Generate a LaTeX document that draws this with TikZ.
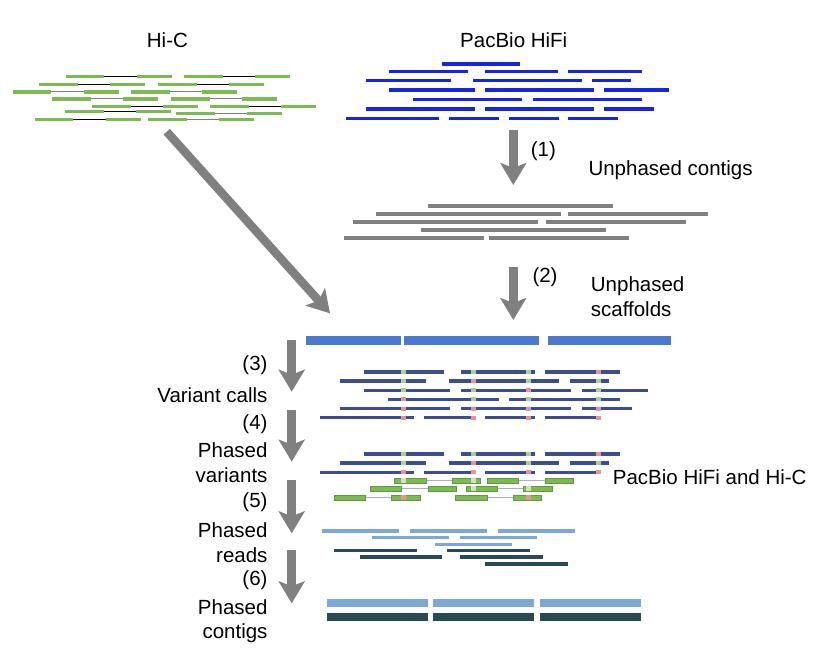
\documentclass[tikz,border=0pt]{standalone}
\usepackage{fontspec}
\setmainfont{Liberation Sans}
\usetikzlibrary{arrows.meta}
\definecolor{hicgreen}{RGB}{125,186,84}
\definecolor{hicedge}{RGB}{95,155,60}
\definecolor{hicline}{RGB}{172,176,208}
\definecolor{hifiblue}{RGB}{22,35,235}
\definecolor{ctggray}{RGB}{128,128,128}
\definecolor{scafblue}{RGB}{72,122,208}
\definecolor{varblue}{RGB}{60,77,150}
\definecolor{snpgreen}{RGB}{168,208,152}
\definecolor{snppink}{RGB}{228,150,150}
\definecolor{snplight}{RGB}{205,228,195}
\definecolor{hapone}{RGB}{123,167,217}
\definecolor{haptwo}{RGB}{38,75,87}
\tikzset{
  lbl/.style={inner sep=0pt, font=\fontsize{20.5}{24}\selectfont},
  flow/.style={draw=ctggray, line width=8.5pt, -{Stealth[length=22pt, width=26pt, inset=5pt]}},
  hicbar/.style={draw=hicgreen, line width=3.5pt},
  hifibar/.style={draw=hifiblue, line width=3.5pt},
  ctgbar/.style={draw=ctggray, line width=4pt},
  varbar/.style={draw=varblue, line width=3.5pt},
  pairbar/.style={fill=hicgreen, draw=hicedge, line width=0.6pt},
}
\begin{document}
\begin{tikzpicture}[x=1pt, y=-1pt]
  \useasboundingbox (0,0) rectangle (824,668);
  \node[lbl, anchor=base west] (hic) at (146.7,47.5) {Hi-C};
  \node[lbl, anchor=base west] (hifi) at (460,47.5) {PacBio HiFi};
  \foreach \x/\y/\c in {65.7/76.3/black, 184.3/76.3/black, 39.3/84.3/black, 158/84.3/black,
      12.7/92/ctggray, 131.3/92/ctggray, 52.3/99/ctggray, 171/99/ctggray,
      92/106.3/black, 210.3/106.3/black, 65.3/111.3/black, 176.3/113.7/ctggray,
      34.7/119.3/black, 148.3/119.3/ctggray} {
    \draw[\c, line width=1pt] (\x+38,\y) -- (\x+72,\y);
    \draw[hicbar] (\x,\y) -- ++(38.5,0);
    \draw[hicbar] (\x+71,\y) -- ++(35,0);
  }
  \foreach \a/\b/\y in {441.7/520/64, 389.3/468/71.3, 485/558/71.3, 568.3/641.7/71.3,
      365.7/451/80.7, 473/582/80.7, 592.3/631/80.7, 389.3/474.7/90, 485/594/90, 604/669/90,
      413.3/522.3/99.7, 532.7/641.7/99.7, 365.7/474.7/109, 485/594/109, 604/654/109,
      346.3/439/118.3, 449/499/118.3, 509/558.7/118.3, 568.3/618/118.3}
    \draw[hifibar] (\a,\y) -- (\b,\y);
  \coordinate (s1) at (513.3,130);
  \coordinate (e1) at (513.3,185);
  \draw[flow] (s1) -- (e1);
  \node[lbl, anchor=base west] (n1) at (530.7,156.5) {(1)};
  \node[lbl, anchor=base west] (upc) at (588.3,175.5) {Unphased contigs};
  \foreach \a/\b/\y in {428.3/613.3/206, 376/560.7/214, 568.3/708.3/214, 353.3/538/222,
      545.7/685.7/222, 421.3/606/230, 344/484/237.7, 489/629.3/237.7}
    \draw[ctgbar] (\a,\y) -- (\b,\y);
  \coordinate (s2) at (513.3,266.7);
  \coordinate (e2) at (513.3,320);
  \draw[flow] (s2) -- (e2);
  \node[lbl, anchor=base west] (n2) at (532.3,282) {(2)};
  \node[lbl, anchor=base west] (ups1) at (590.7,291) {Unphased};
  \node[lbl, anchor=base west] (ups2) at (590.7,316.7) {scaffolds};
  \coordinate (hs) at (166.7,131.7);
  \coordinate (he) at (330,313.3);
  \draw[flow] (hs) -- (he);
  \foreach \a/\b in {306/400.7, 404/539.3, 548/671}
    \draw[scafblue, line width=9pt] (\a,340) -- (\b,340);
  \foreach \a/\b/\y in {364/443.7/372, 461/534.7/372, 545.3/620/372,
      339.7/426/381, 448.7/559/381, 569.7/608.7/381,
      364/450/390.3, 461/571/390.3, 582/647.7/390.3,
      388/498.7/399.3, 509/619.7/399.3,
      339.7/450/408.7, 461/571/408.7, 582/632.3/408.7,
      320/413.7/417.7, 424.3/476.3/417.7, 485/535.3/417.7, 545.3/601/417.7,
      364/443.7/454, 461/534.7/454, 545.3/620/454,
      339.7/426/463, 448.7/559/463, 569.7/608.7/463,
      320/413.7/472.3, 424.3/476.3/472.3, 485/535.3/472.3, 545.3/601/472.3}
    \draw[varbar] (\a,\y) -- (\b,\y);
  \foreach \y/\p/\q/\r/\s in {372/snpgreen/snpgreen/snpgreen/snppink,
      381/snpgreen/snppink/snpgreen/snpgreen, 390.3/snpgreen/snpgreen/snppink/snpgreen,
      399.3/snppink/snpgreen/snpgreen/snpgreen, 408.7/snppink/snppink/snppink/snppink,
      417.7/snppink/snppink/snppink/snppink, 454/snpgreen/snpgreen/snpgreen/snppink,
      463/snpgreen/snppink/snpgreen/snpgreen, 472.3/snppink/snppink/snppink/snppink} {
    \fill[\p] (401.2,\y-2) rectangle ++(5,4);
    \fill[\q] (471.2,\y-2) rectangle ++(5,4);
    \fill[\r] (525.5,\y-2) rectangle ++(5,4);
    \fill[\s] (595.8,\y-2) rectangle ++(5,4);
  }
  \foreach \a/\b/\c/\d/\y in {394.7/426/452/480.7/480.7, 487.3/518.7/545/573.7/480.7,
      370.3/401.7/428/456.7/488.7, 466/497.7/523.3/552.3/488.7,
      334.3/365.7/391.3/420.7/497.7, 455.3/487/513/541.7/497.7} {
    \draw[hicline, line width=1.2pt] (\b,\y) -- (\c,\y);
    \draw[pairbar] (\a,\y-2.8) rectangle (\b,\y+2.8);
    \draw[pairbar] (\c,\y-2.8) rectangle (\d,\y+2.8);
  }
  \foreach \x/\y/\c in {403.7/480.7/snplight, 473.7/480.7/snplight, 473.7/488.7/snplight,
      528/488.7/snplight, 403.7/497.7/snppink, 528/497.7/snppink}
    \fill[\c] (\x-2.5,\y-2.5) rectangle (\x+2.5,\y+2.5);
  \node[lbl, anchor=base west] (both) at (612.7,484) {PacBio HiFi and Hi-C};
  \foreach \a/\b/\y in {322/399/531, 410/487/531, 498/575/531, 372/449/537.7, 460/537/537.7,
      435/512/544.7}
    \draw[hapone, line width=3.5pt] (\a,\y) -- (\b,\y);
  \foreach \a/\b/\y in {334.3/417/550.3, 447.3/530/550.3, 359.7/442/557, 460/542.7/557,
      485/567.7/564}
    \draw[haptwo, line width=3.5pt] (\a,\y) -- (\b,\y);
  \foreach \a/\b in {326.7/427.7, 433.3/534.3, 540/641} {
    \draw[hapone, line width=8pt] (\a,603) -- (\b,603);
    \draw[haptwo, line width=8pt] (\a,617) -- (\b,617);
  }
  \foreach \i/\t/\b in {3/340/391.7, 4/410/461.7, 5/480/533.3, 6/550/603.3} {
    \coordinate (ls\i) at (291.7,\t);
    \coordinate (le\i) at (291.7,\b);
    \draw[flow] (ls\i) -- (le\i);
  }
  \foreach \i/\y/\t in {1/370/(3), 2/402/Variant calls, 3/429/(4), 4/457/Phased,
      5/482/variants, 6/507/(5), 7/537/Phased, 8/562/reads, 9/585/(6), 10/614/Phased,
      11/638/contigs}
    \node[lbl, anchor=base east] (step\i) at (267.7,\y) {\t};
\end{tikzpicture}
\end{document}
